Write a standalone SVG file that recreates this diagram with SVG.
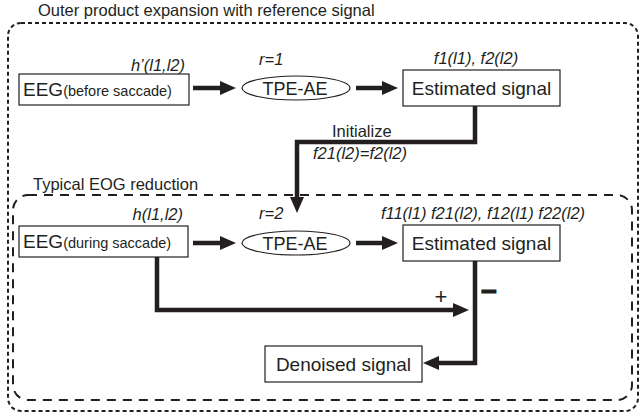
<svg xmlns="http://www.w3.org/2000/svg" width="641" height="416" viewBox="0 0 641 416">
<style>
  .bg{fill:#ffffff}
  .frame-outer{fill:none;stroke:#231f20;stroke-width:2;stroke-dasharray:4 3}
  .frame-inner{fill:none;stroke:#231f20;stroke-width:2;stroke-dasharray:9 7}
  .box{fill:#ffffff;stroke:#231f20;stroke-width:1.2}
  .lbl{font-family:"Liberation Sans",Arial,sans-serif;font-size:16.5px;fill:#231f20}
  .it{font-style:italic}
  .big{font-family:"Liberation Sans",Arial,sans-serif;font-size:19px;fill:#231f20}
  .sm{font-size:14.5px}
  .conn{fill:none;stroke:#231f20;stroke-width:4.5;stroke-linejoin:miter}
</style>
<defs>
  <marker id="ah" markerUnits="userSpaceOnUse" markerWidth="16" markerHeight="14" refX="6" refY="7" orient="auto" overflow="visible">
    <path d="M0,0 L16,7 L0,14 Z" fill="#231f20"/>
  </marker>
</defs>
<rect class="bg" x="0" y="0" width="641" height="416"/>

<g id="outer-frame">
  <rect class="frame-outer" x="8" y="23" width="630" height="388" rx="13" ry="13"/>
  <text class="lbl" x="38" y="16">Outer product expansion with reference signal</text>
</g>
<g id="inner-frame">
  <rect class="frame-inner" x="13" y="195" width="619" height="205" rx="15" ry="15"/>
  <text class="lbl" x="33" y="190">Typical EOG reduction</text>
</g>

<g id="connectors">
  <line class="conn" x1="193" y1="88" x2="226" y2="88" marker-end="url(#ah)"/>
  <line class="conn" x1="356" y1="88" x2="388" y2="88" marker-end="url(#ah)"/>
  <polyline class="conn" points="475,106 475,142 297,142 297,203" marker-end="url(#ah)"/>
  <line class="conn" x1="193" y1="243" x2="226" y2="243" marker-end="url(#ah)"/>
  <line class="conn" x1="356" y1="243" x2="388" y2="243" marker-end="url(#ah)"/>
  <polyline class="conn" points="157,257 157,310 459,310" marker-end="url(#ah)"/>
  <polyline class="conn" points="475,261 475,363 433,363" marker-end="url(#ah)"/>
  <text class="lbl" x="332" y="137">Initialize</text>
  <text class="lbl it" x="313" y="159">f21(l2)=f2(l2)</text>
  <text class="lbl" x="441" y="304" text-anchor="middle" style="font-size:22px">+</text>
  <text class="lbl" x="489" y="301" text-anchor="middle" style="font-size:28px;font-weight:bold;stroke:#231f20;stroke-width:1">−</text>
</g>

<g id="eeg-before">
  <rect class="box" x="19" y="74" width="170" height="31"/>
  <text class="big" x="23" y="96">EEG<tspan class="sm">(before saccade)</tspan></text>
  <text class="lbl it" x="185" y="71" text-anchor="end">h’(l1,l2)</text>
</g>
<g id="tpe-ae-1">
  <ellipse class="box" cx="296" cy="88" rx="54" ry="12"/>
  <text class="big" x="295" y="94.5" text-anchor="middle" style="font-size:18px">TPE-AE</text>
  <text class="lbl it" x="259" y="65">r=1</text>
</g>
<g id="estimated-1">
  <rect class="box" x="403" y="70" width="157" height="36"/>
  <text class="big" x="481.5" y="95" text-anchor="middle">Estimated signal</text>
  <text class="lbl it" x="476" y="64" text-anchor="middle">f1(l1), f2(l2)</text>
</g>

<g id="eeg-during">
  <rect class="box" x="19" y="226" width="169" height="31"/>
  <text class="big" x="23" y="248">EEG<tspan class="sm">(during saccade)</tspan></text>
  <text class="lbl it" x="183" y="220" text-anchor="end">h(l1,l2)</text>
</g>
<g id="tpe-ae-2">
  <ellipse class="box" cx="296" cy="243" rx="54" ry="12"/>
  <text class="big" x="295" y="249.5" text-anchor="middle" style="font-size:18px">TPE-AE</text>
  <text class="lbl it" x="259" y="219">r=2</text>
</g>
<g id="estimated-2">
  <rect class="box" x="403" y="225" width="157" height="36"/>
  <text class="big" x="481.5" y="250" text-anchor="middle">Estimated signal</text>
  <text class="lbl it" x="483" y="219" text-anchor="middle">f11(l1) f21(l2), f12(l1) f22(l2)</text>
</g>

<g id="denoised">
  <rect class="box" x="265" y="346" width="157" height="36"/>
  <text class="big" x="343.5" y="371" text-anchor="middle">Denoised signal</text>
</g>
</svg>
